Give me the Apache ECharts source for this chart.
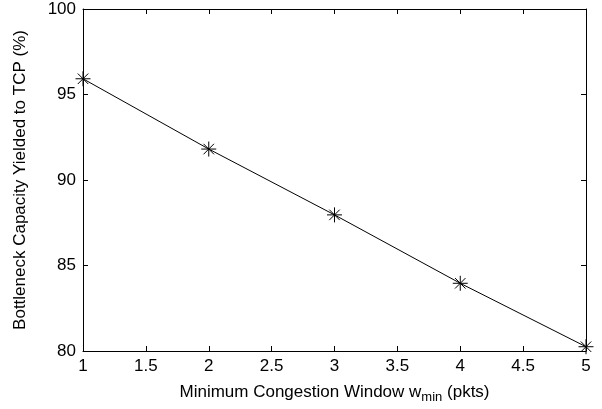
<!DOCTYPE html>
<html>
<head>
<meta charset="utf-8">
<script src="https://cdn.jsdelivr.net/npm/echarts@6/dist/echarts.min.js"></script>
<style>html,body{margin:0;padding:0;background:#fff;}#c{width:602px;height:409px;}</style>
</head>
<body>
<div id="c"></div>
<script>
const xValues = [1, 2, 3, 4, 5];
const yValues = [95.92, 91.81, 87.96, 83.96, 80.25];
const xTicks = [1, 1.5, 2, 2.5, 3, 3.5, 4, 4.5, 5];
const yTicks = [80, 85, 90, 95, 100];

const chart = echarts.init(document.getElementById('c'), null, {renderer: 'canvas'});
const font = 'Liberation Sans, Arial, Helvetica, sans-serif';
const axisCommon = {
  axisLine: {show: true, onZero: false, lineStyle: {color: '#000', width: 1}},
  axisTick: {show: true, inside: true, length: 5, lineStyle: {color: '#000'}},
  splitLine: {show: false}
};
const star = 'path://M0,5L10,5M5,0L5,10M1.5,1.5L8.5,8.5M8.5,1.5L1.5,8.5';
chart.setOption({
  animation: false,
  backgroundColor: '#fff',
  grid: {left: 83, right: 16, top: 9, bottom: 58, containLabel: false},
  xAxis: [
    Object.assign({}, axisCommon, {
      type: 'value', position: 'bottom', min: xTicks[0], max: xTicks[xTicks.length-1], interval: 0.5,
      axisLabel: {color: '#000', fontSize: 17, fontFamily: font, margin: 7},
      name: '{a|Minimum Congestion Window w}{s|min}{a| (pkts)}',
      nameLocation: 'middle', nameGap: 30,
      nameTextStyle: {rich: {
        a: {fontSize: 17, fontFamily: font, color: '#000'},
        s: {fontSize: 13, fontFamily: font, color: '#000', verticalAlign: 'bottom', padding: [10, 0, 0, 0]}
      }}
    }),
    Object.assign({}, axisCommon, {
      type: 'value', position: 'top', min: xTicks[0], max: xTicks[xTicks.length-1], interval: 0.5,
      axisLabel: {show: false}
    })
  ],
  yAxis: [
    Object.assign({}, axisCommon, {
      type: 'value', position: 'left', min: yTicks[0], max: yTicks[yTicks.length-1], interval: 5,
      axisLabel: {color: '#000', fontSize: 17, fontFamily: font, margin: 7},
      name: 'Bottleneck Capacity Yielded to TCP (%)',
      nameLocation: 'middle', nameGap: 54, nameRotate: 90,
      nameTextStyle: {fontSize: 17, fontFamily: font, color: '#000'}
    }),
    Object.assign({}, axisCommon, {
      type: 'value', position: 'right', min: yTicks[0], max: yTicks[yTicks.length-1], interval: 5,
      axisLabel: {show: false}
    })
  ],
  series: [{
    type: 'line',
    data: xValues.map((x, i) => [x, yValues[i]]),
    symbol: star,
    symbolSize: 15,
    showAllSymbol: true,
    clip: false,
    lineStyle: {color: '#000', width: 1},
    itemStyle: {color: 'none', borderColor: '#000', borderWidth: 1}
  }]
});
</script>
</body>
</html>
